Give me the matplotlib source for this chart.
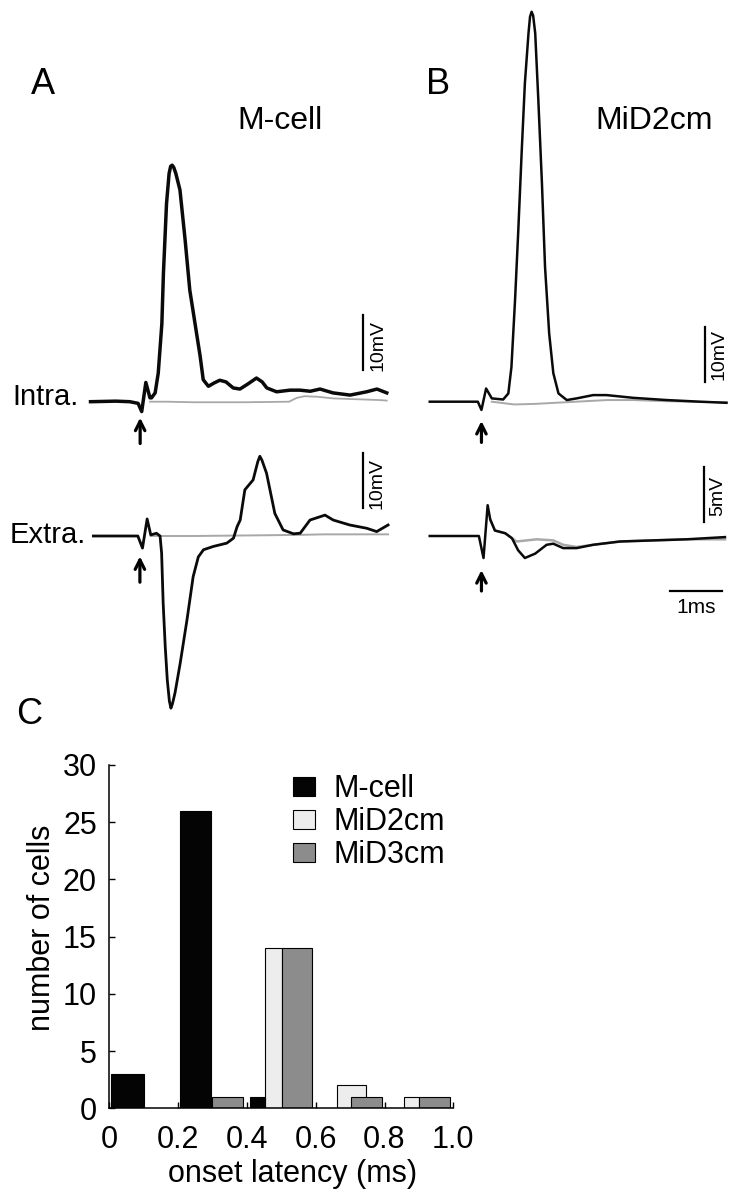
import matplotlib
matplotlib.use("Agg")
import matplotlib.pyplot as plt
from matplotlib.patches import Patch

plt.rcParams['font.family'] = ['Liberation Sans', 'DejaVu Sans']

# ---------------- DATA ----------------
# Panel A (M-cell) intracellular trace: time (ms from stimulus), voltage (mV)
a_intra_t = [-0.99, -0.5, -0.23, -0.07, 0.0, 0.08, 0.16, 0.19, 0.26, 0.32, 0.39, 0.42, 0.48, 0.53,
             0.56, 0.59, 0.62, 0.66, 0.74, 0.84, 0.93, 1.03, 1.13, 1.19, 1.29, 1.40, 1.51, 1.63,
             1.77, 1.90, 2.05, 2.22, 2.33, 2.42, 2.61, 2.87, 3.06, 3.26, 3.45, 3.70, 4.03, 4.35,
             4.55, 4.74]
a_intra_v = [0.0, 0.1, 0.0, -0.3, -1.8, 3.5, 0.7, 0.7, 1.6, 5.2, 14.2, 23.3, 36.0, 41.5,
             42.8, 43.0, 42.6, 41.5, 38.5, 29.4, 20.3, 14.3, 8.3, 4.0, 2.8, 3.4, 3.9, 3.6,
             2.5, 2.3, 3.2, 4.3, 3.6, 2.5, 1.8, 2.1, 2.1, 1.9, 2.3, 1.6, 1.2, 1.8,
             2.3, 1.6]
a_intra_gray_t = [0.16, 0.5, 1.0, 2.0, 2.85, 3.0, 3.15, 3.4, 3.7, 4.0, 4.3, 4.6, 4.74]
a_intra_gray_v = [0.0, 0.0, -0.1, -0.1, 0.0, 0.7, 1.0, 0.9, 0.6, 0.5, 0.4, 0.3, 0.2]

# Panel A extracellular trace
a_extra_t = [-0.96, -0.5, -0.10, -0.01, 0.08, 0.15, 0.26, 0.33, 0.36, 0.39, 0.43, 0.47, 0.51,
             0.54, 0.57, 0.62, 0.72, 0.85, 0.97, 1.07, 1.17, 1.36, 1.62, 1.75, 1.82, 1.88,
             1.97, 2.13, 2.22, 2.26, 2.30, 2.39, 2.55, 2.71, 2.91, 3.04, 3.23, 3.52, 3.68,
             4.00, 4.33, 4.52, 4.74]
a_extra_v = [0.0, 0.0, 0.0, -2.2, 3.1, 0.2, 0.5, 0.0, -3.1, -12.2, -20.1, -26.2, -30.0,
             -31.3, -30.5, -28.5, -23.1, -15.3, -7.4, -3.8, -2.5, -1.9, -1.3, -0.4, 1.7, 2.9,
             8.4, 10.2, 13.5, 14.5, 13.8, 11.4, 4.1, 1.1, 0.4, 0.5, 2.9, 3.8, 2.9,
             2.0, 1.4, 0.8, 2.0]
a_extra_gray_t = [0.15, 1.0, 2.0, 3.0, 3.5, 4.0, 4.74]
a_extra_gray_v = [0.0, 0.0, 0.1, 0.2, 0.3, 0.3, 0.3]

# Panel B (MiD2cm) intracellular trace
b_intra_t = [-1.03, -0.5, -0.10, -0.03, 0.06, 0.17, 0.39, 0.49, 0.55, 0.62, 0.68, 0.75, 0.81,
             0.88, 0.91, 0.94, 0.97, 1.01, 1.07, 1.14, 1.20, 1.28, 1.36, 1.46, 1.62, 1.81,
             2.13, 2.39, 2.91, 3.55, 4.20, 4.71]
b_intra_v = [0.0, 0.0, 0.0, -1.5, 2.4, 0.6, 0.4, 1.5, 6.3, 18.5, 30.6, 45.8, 57.9,
             67.0, 70.0, 70.9, 70.2, 67.0, 54.9, 39.7, 24.5, 12.4, 5.2, 1.5, 0.3, 0.6,
             1.2, 1.2, 0.7, 0.3, 0.0, -0.2]
b_intra_gray_t = [0.17, 0.6, 1.0, 1.6, 2.0, 2.4, 2.9, 3.5, 4.0, 4.71]
b_intra_gray_v = [0.0, -0.5, -0.4, -0.1, 0.1, 0.3, 0.3, 0.1, 0.0, -0.1]

# Panel B extracellular trace
b_extra_t = [-1.03, -0.5, -0.08, 0.01, 0.09, 0.14, 0.23, 0.43, 0.56, 0.68, 0.81, 1.01, 1.23,
             1.36, 1.55, 1.81, 2.13, 2.65, 3.29, 3.94, 4.68]
b_extra_v = [0.0, 0.0, 0.0, -2.0, 2.8, 1.5, 0.5, 0.25, -0.2, -1.3, -2.0, -1.6, -0.8,
             -0.7, -1.1, -1.1, -0.8, -0.5, -0.4, -0.3, -0.1]
b_extra_gray_t = [0.14, 0.23, 0.43, 0.56, 0.65, 1.04, 1.36, 1.55, 1.81, 2.13, 2.65, 3.29, 3.94, 4.68]
b_extra_gray_v = [1.5, 0.5, 0.25, -0.2, -0.5, -0.3, -0.4, -0.8, -1.0, -0.8, -0.5, -0.4, -0.3, -0.3]

# Panel C histogram: bar start / end latency (ms) and counts
mcell_start = [0.005, 0.205, 0.408]
mcell_end = [0.100, 0.297, 0.452]
mcell_count = [3, 26, 1]
mid2_start = [0.453, 0.661, 0.857]
mid2_end = [0.501, 0.746, 0.901]
mid2_count = [14, 2, 1]
mid3_start = [0.298, 0.501, 0.702, 0.901]
mid3_end = [0.390, 0.590, 0.792, 0.990]
mid3_count = [1, 14, 1, 1]
series_names = ['M-cell', 'MiD2cm', 'MiD3cm']
x_ticks = [0, 0.2, 0.4, 0.6, 0.8, 1.0]
x_tick_labels = ['0', '0.2', '0.4', '0.6', '0.8', '1.0']
y_ticks = [0, 5, 10, 15, 20, 25, 30]

# ---------------- FIGURE ----------------
W, H = 752, 1199
fig = plt.figure(figsize=(W / 100, H / 100), dpi=100)


def fx(px):
    return px / W


def fy(py):
    return 1 - py / H


def trace_axes(stim_x, base_y, px_ms, px_mv):
    ax = fig.add_axes([0, 0, 1, 1])
    ax.set_xlim(-stim_x / px_ms, (W - stim_x) / px_ms)
    ax.set_ylim(-(H - base_y) / px_mv, base_y / px_mv)
    ax.axis('off')
    ax.patch.set_alpha(0)
    return ax


BLACK = '#0a0a0a'
GRAY = '#a8a8a8'
ARROW = dict(arrowstyle='->', lw=2.3, color='black', mutation_scale=17,
             shrinkA=0, shrinkB=0)

# A intra
ax = trace_axes(141.7, 401.7, 51.7, 5.5)
ax.plot(a_intra_gray_t, a_intra_gray_v, color=GRAY, lw=1.3)
ax.plot(a_intra_t, a_intra_v, color=BLACK, lw=2.5, solid_joinstyle='round')
ax.annotate('', xy=(-0.03, -2.9), xytext=(-0.03, -7.6), arrowprops=ARROW)
ax.plot([4.29, 4.29], [5.76, 15.76], color='black', lw=1.6)
ax.text(4.40, 10.3, '10mV', rotation=90, ha='left', va='center', fontsize=14)

# A extra
ax = trace_axes(143.0, 536.0, 51.7, 5.5)
ax.plot(a_extra_gray_t, a_extra_gray_v, color=GRAY, lw=1.4)
ax.plot(a_extra_t, a_extra_v, color=BLACK, lw=2.0, solid_joinstyle='round')
ax.annotate('', xy=(-0.06, -3.7), xytext=(-0.06, -8.4), arrowprops=ARROW)
ax.plot([4.26, 4.26], [5.0, 15.0], color='black', lw=1.6)
ax.text(4.37, 9.6, '10mV', rotation=90, ha='left', va='center', fontsize=14)

# B intra
ax = trace_axes(483.0, 401.7, 51.7, 5.5)
ax.plot(b_intra_gray_t, b_intra_gray_v, color=GRAY, lw=1.4)
ax.plot(b_intra_t, b_intra_v, color=BLACK, lw=1.8, solid_joinstyle='round')
ax.annotate('', xy=(-0.03, -3.5), xytext=(-0.03, -7.4), arrowprops=ARROW)
ax.plot([4.29, 4.29], [3.6, 13.6], color='black', lw=1.6)
ax.text(4.40, 8.5, '10mV', rotation=90, ha='left', va='center', fontsize=14)

# B extra
ax = trace_axes(483.0, 536.0, 51.7, 11.0)
ax.plot(b_extra_gray_t, b_extra_gray_v, color=GRAY, lw=1.8)
ax.plot(b_extra_t, b_extra_v, color=BLACK, lw=1.8, solid_joinstyle='round')
ax.annotate('', xy=(-0.03, -3.1), xytext=(-0.03, -5.0), arrowprops=ARROW)
ax.plot([4.27, 4.27], [1.3, 6.3], color='black', lw=1.6)
ax.text(4.37, 3.6, '5mV', rotation=90, ha='left', va='center', fontsize=14)
ax.plot([3.62, 4.62], [-4.97, -4.97], color='black', lw=1.6)
ax.text(4.12, -5.6, '1ms', ha='center', va='top', fontsize=15)

# Panel texts
fig.text(fx(43), fy(85), 'A', fontsize=26, ha='center', va='center')
fig.text(fx(280), fy(121), 'M-cell', fontsize=23, ha='center', va='center')
fig.text(fx(438), fy(84), 'B', fontsize=26, ha='center', va='center')
fig.text(fx(654), fy(121), 'MiD2cm', fontsize=23, ha='center', va='center')
fig.text(fx(79), fy(405), 'Intra.', fontsize=21, ha='right', va='baseline')
fig.text(fx(86), fy(543), 'Extra.', fontsize=21, ha='right', va='baseline')
fig.text(fx(29), fy(714), 'C', fontsize=26, ha='center', va='center')

# ---------------- Panel C ----------------
axc = fig.add_axes([fx(109.3), fy(1108.3), 344 / W, 343.3 / H])
C_BLACK = '#040404'
C_LIGHT = '#ededed'
C_GRAY = '#8c8c8c'
axc.bar(mid2_start, mid2_count, width=[e - s for s, e in zip(mid2_start, mid2_end)],
        align='edge', color=C_LIGHT, edgecolor='black', lw=0.8)
axc.bar(mid3_start, mid3_count, width=[e - s for s, e in zip(mid3_start, mid3_end)],
        align='edge', color=C_GRAY, edgecolor='black', lw=0.8)
axc.bar(mcell_start, mcell_count, width=[e - s for s, e in zip(mcell_start, mcell_end)],
        align='edge', color=C_BLACK, edgecolor='black', lw=0.8)
axc.set_xlim(0, 1.0)
axc.set_ylim(0, 30)
axc.set_xticks(x_ticks)
axc.set_xticklabels(x_tick_labels)
axc.set_yticks(y_ticks)
axc.tick_params(direction='in', length=4, width=1.0, labelsize=22, pad=9)
axc.tick_params(axis='x', pad=12)
for s in ['top', 'right']:
    axc.spines[s].set_visible(False)
for s in ['left', 'bottom']:
    axc.spines[s].set_linewidth(1.1)
axc.set_xlabel('onset latency (ms)', fontsize=22)
axc.xaxis.label.set_va('center')
axc.xaxis.set_label_coords((292.5 - 109.3) / 344, -(1174 - 1108.3) / 343.3)
axc.set_ylabel('number of cells', fontsize=22)
axc.yaxis.label.set_va('center')
axc.yaxis.set_label_coords((41.7 - 109.3) / 344, (1108.3 - 928) / 343.3)

handles = [Patch(facecolor=c, edgecolor='black', lw=0.8) for c in (C_BLACK, C_LIGHT, C_GRAY)]
fig.legend(handles, series_names, loc='upper left', bbox_to_anchor=(fx(293), fy(774)),
           frameon=False, fontsize=22, handlelength=0.72, handleheight=0.6,
           handletextpad=0.6, labelspacing=0.1, borderpad=0, borderaxespad=0)

fig.savefig('out.png', dpi=100)
